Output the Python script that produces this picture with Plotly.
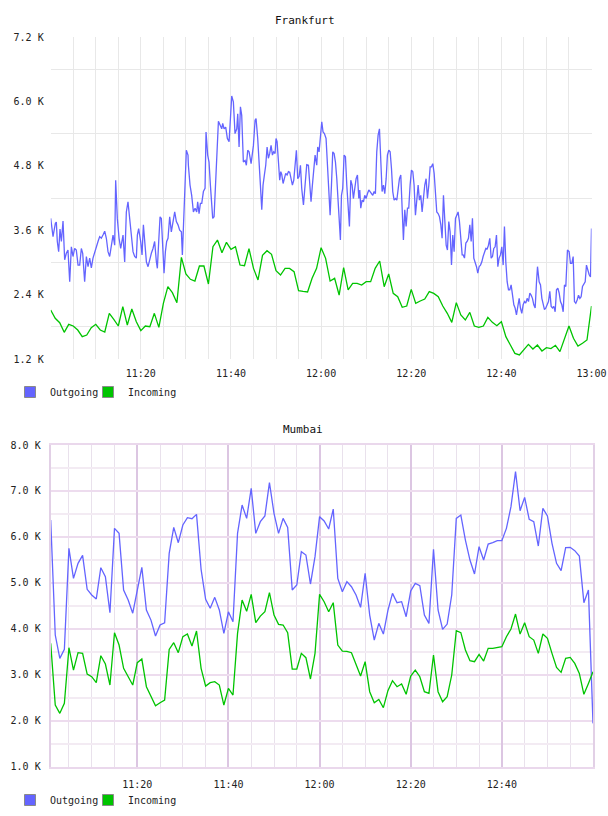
import pandas as pd
import plotly.graph_objects as go

# ---------------- data ----------------
# Frankfurt outgoing: seconds after 11:00 and values
fra_out_sec = [
    0, 31, 62, 75, 88, 106, 124, 142, 164, 186, 208, 230, 253, 275, 297, 319, 341, 364, 386, 408,
    426, 452, 475, 497, 519, 541, 563, 585, 608, 630, 652, 674, 696, 719, 741, 763, 785, 807, 830, 852,
    865, 887, 910, 932, 949, 963, 985, 1007, 1029, 1052, 1074, 1096, 1118, 1140, 1154, 1171, 1198, 1216, 1234, 1251,
    1274, 1296, 1318, 1340, 1362, 1384, 1407, 1420, 1438, 1456, 1473, 1491, 1509, 1527, 1544, 1562, 1584, 1606, 1629, 1651,
    1673, 1695, 1717, 1740, 1753, 1771, 1793, 1806, 1828,
    1833, 1855, 1877, 1900, 1922, 1944, 1957, 1975, 1993, 2011, 2033, 2055, 2068, 2090, 2108, 2126, 2144, 2157, 2175, 2197,
    2219, 2233, 2255, 2277, 2290, 2308, 2330, 2352, 2375, 2397, 2410, 2432, 2454, 2477, 2490, 2508, 2526, 2543, 2565, 2588,
    2605, 2623, 2641, 2668, 2699, 2721, 2734, 2756, 2774, 2792, 2810, 2827, 2845, 2863, 2881, 2898, 2916, 2934, 2952, 2969,
    2987, 3000, 3014, 3032, 3049, 3063, 3076, 3094, 3111, 3129, 3147, 3165, 3182, 3200, 3218, 3236, 3253, 3271, 3289, 3307,
    3325, 3342, 3365, 3387, 3409, 3431, 3449, 3466, 3484, 3502, 3520, 3542, 3555, 3573, 3591, 3609, 3626, 3644,
    3666, 3684, 3702, 3720, 3738, 3755, 3773, 3791, 3809, 3826, 3844, 3857, 3871, 3888, 3906, 3924, 3942, 3959, 3977, 3995,
    4013, 4030, 4048, 4066, 4084, 4102, 4115, 4128, 4146, 4164, 4181, 4199, 4217, 4235, 4252, 4270, 4288, 4306, 4323, 4341,
    4359, 4377, 4394, 4412, 4430, 4448, 4466, 4483, 4501, 4519, 4537, 4554, 4572, 4590, 4608, 4625, 4643, 4661, 4679, 4696,
    4714, 4732, 4750, 4767, 4785, 4803, 4821, 4838, 4856, 4874, 4892, 4909, 4927, 4945, 4963, 4980, 4998, 5016, 5034, 5052,
    5069, 5087, 5105, 5123, 5140, 5158, 5176, 5194, 5211, 5229, 5247, 5265, 5282, 5300, 5318, 5336, 5353, 5371, 5389, 5407,
    5424, 5442, 5460, 5478,
    5491, 5509, 5527, 5544, 5562, 5580, 5598, 5615, 5633, 5651, 5669, 5686, 5704, 5722, 5740, 5757, 5775, 5793, 5811, 5828,
    5846, 5864, 5882, 5899, 5917, 5935, 5953, 5970, 5988, 6006, 6024, 6041, 6059, 6077, 6095, 6112, 6130, 6148, 6166, 6183,
    6201, 6219, 6237, 6254, 6272, 6290, 6308, 6325, 6343, 6361, 6379, 6396, 6414, 6432, 6450, 6468, 6481, 6503, 6521, 6539,
    6556, 6574, 6592, 6610, 6627, 6645, 6663, 6681, 6698, 6716, 6734, 6752, 6769, 6787, 6805, 6823, 6840, 6858, 6880, 6902,
    6920, 6938, 6956, 6973, 6991, 7009, 7027, 7045, 7062, 7080, 7098, 7116, 7133, 7151, 7169, 7187, 7200,
]
fra_out_val = [
    3820, 3480, 3730, 3750, 3390, 3200, 3620, 3390, 3770, 3050, 3170, 3230, 2640, 3290, 3110, 3260, 3230, 2950, 2950, 3260,
    3170, 2640, 3110, 2920, 3080, 2900, 3080, 3200, 3290, 3390, 3480, 3450, 3510, 3580, 3450, 3200, 3110, 3320, 3510, 3320,
    4530, 3820, 3450, 3260, 3390, 3510, 3010, 3940, 4130, 3820, 3390, 3200, 3110, 3080, 3510, 3630, 3390, 3140, 3700, 3450,
    3010, 2920, 3080, 3170, 3260, 3390, 3010, 2890, 3390, 3850, 3820, 3320, 2800, 3200, 3390, 3450, 3850, 3570, 3730, 3940,
    3760, 3700, 3600, 3570, 3140, 3820, 4690, 5090, 5000,
    4810, 4440, 4250, 3940, 4010, 3940, 4130, 3910, 4100, 4100, 4320, 4380, 5430, 5000, 4870, 4440, 4070, 3820, 3850, 4500,
    5180, 5630, 5560, 5490, 5590, 5490, 5520, 5310, 5250, 5680, 6100, 5990, 5400, 5490, 5770, 5150, 5900, 5740, 4870, 4900,
    4810, 5090, 5060, 4840, 5180, 5650, 5680, 5310, 4750, 4440, 3980, 4440, 4630, 4810, 5150, 4940, 5030, 5180, 5000, 5060,
    5030, 5310, 5250, 4900, 4530, 4690, 4640, 4470, 4600, 4660, 4630, 4690, 4680, 4530, 4440, 4530, 4810, 5090, 4560, 4600,
    4810, 4380, 4070, 4380, 4820, 4810, 4500, 4130, 4440, 4780, 5000, 4810, 5150, 5060, 5280, 5620, 5430, 5400,
    5310, 4750, 4320, 3880, 4440, 5060, 5030, 4870, 4560, 4130, 3700, 3420, 4250, 4380, 5000, 4970, 4440, 3940, 3670, 4530,
    4440, 4190, 4440, 4560, 4630, 4190, 4350, 4010, 4160, 4130, 4250, 4190, 4280, 4350, 4320, 4280, 4250, 4320, 4280, 5060,
    5370, 5490, 4810, 4320, 4440, 4280, 4560, 5000, 5090, 5060, 4750, 4320, 4160, 4190, 4160, 4380, 4560, 4630, 3940, 3420,
    3980, 3670, 4010, 4010, 4440, 4720, 4690, 4440, 3880, 4220, 4440, 4160, 4250, 3940, 4280, 4440, 4560, 4190, 4440, 4780,
    4780, 4840, 4660, 4320, 3940, 3910, 3850, 3700, 3450, 4250, 3700, 3320, 3230, 3760, 3570, 2950, 3510, 3200, 3820, 3880,
    3940, 3760, 3510, 3140,
    3140, 3080, 3360, 3390, 3450, 3700, 3390, 3820, 3080, 3010, 2920, 2800, 2920, 2950, 3010, 3110, 3200, 3260, 3250, 3320,
    3450, 3080, 3110, 3260, 3290, 3510, 2920, 3080, 3140, 3290, 2950, 3670, 3010, 2640, 2490, 2490, 2580, 2330, 2210, 2150,
    2020, 2180, 2330, 2150, 2050, 2210, 2270, 2240, 2330, 2270, 2430, 2390, 2330, 2210, 2150, 2640, 2920, 2640, 2580, 2330,
    2210, 2120, 2150, 2210, 2270, 2460, 2180, 2150, 2180, 2080, 2490, 2520, 2430, 2270, 2210, 2080, 2580, 2550, 3230, 3200,
    2980, 2980, 3110, 2270, 2240, 2300, 2390, 2330, 2360, 2550, 2610, 2640, 2950, 2830, 2770, 2730, 3630,
]

# Frankfurt incoming: one value per minute, 11:00 .. 13:00
fra_in_min = list(range(0, 121))
fra_in_val = [
    2113, 1958, 1877, 1697, 1846, 1815, 1740, 1616, 1647, 1783,
    1846, 1740, 1703, 2051, 1939, 1815, 2175, 1833, 2132, 1895,
    1728, 1815, 1802, 2051, 1790, 2237, 2548, 2436, 2249, 3094,
    2784, 2685, 2653, 2933, 2933, 2597, 3293, 3417, 3181, 3374,
    3244, 3293, 2951, 2939, 3256, 2889, 2672, 3132, 3218, 3150,
    2845, 2765, 2889, 2889, 2827, 2473, 2460, 2450,
    2703, 2889, 3274, 3076, 2653, 2703, 2392, 2902, 2486, 2610,
    2610, 2579, 2641, 2641, 2889, 3026, 2548, 2784, 2423, 2361,
    2163, 2187, 2498, 2237, 2281, 2318, 2455, 2423, 2361, 2187,
    2051, 1883, 2250, 2020, 1927, 2069, 1815, 1790, 1815, 1976,
    1883, 1821, 1896, 1616, 1461, 1305, 1275, 1380, 1473, 1386,
    1461, 1349, 1411, 1393, 1455, 1337, 1585, 1815, 1585, 1442,
    1492, 1554, 2187,
]

# Mumbai: one value per minute, 11:01 .. 13:00
mum_min = list(range(1, 121))
mum_out_val = [
    6370, 3865, 3357, 3553, 5751, 5098, 5425, 5599, 4859, 4736,
    4649, 5330, 5135, 4350, 6186, 6077, 4845, 4627, 4340, 4880,
    5338, 4409, 4190, 3843, 4083, 4133, 5642, 6208, 5874, 6259,
    6418, 6397, 6491, 5294, 4641, 4446, 4685, 4410, 3901, 4370,
    4155, 6077, 6694, 6404, 7057, 6077, 6331, 6455, 7180, 6513,
    6077, 6404, 6208, 4845, 4953, 5679, 5606, 4975, 5570, 6440,
    6346, 6172, 6607, 5098, 4808, 5026, 4917, 4736, 4467, 5207,
    4300, 3756, 4119, 3887, 4400, 4772, 4569, 4591, 4264, 4823,
    4989, 4939, 4300, 4119, 5729, 4410, 3988, 4104, 4736, 6404,
    6476, 5932, 5497, 5193, 5787, 5497, 5845, 5874, 5918, 5918,
    6186, 6658, 7419, 6571, 6861, 6382, 6331, 5802, 6621, 6455,
    5860, 5425, 5265, 5766, 5773, 5700, 5584, 4569, 4845, 1943,
]
mum_in_val = [
    3684, 2342, 2161, 2378, 3589, 3103, 3481, 3466, 3016, 2958,
    2828, 3415, 3234, 2777, 3916, 3647, 3140, 2973, 2777, 3263,
    3343, 2741, 2538, 2327, 2393, 2451, 3553, 3698, 3481, 3829,
    3887, 3626, 3952, 3140, 2755, 2828, 2850, 2777, 2342, 2705,
    2560, 3901, 4627, 4380, 4750, 4133, 4278, 4373, 4786, 4300,
    4097, 4083, 3916, 3125, 3125, 3466, 3372, 2908, 3466, 4750,
    4590, 4373, 4569, 3647, 3517, 3510, 3481, 3234, 2973, 3285,
    2632, 2393, 2465, 2284, 2654, 2871, 2741, 2799, 2574, 2973,
    3103, 2958, 2632, 2596, 3430, 2632, 2414, 2523, 2995, 3959,
    3916, 3539, 3307, 3285, 3444, 3299, 3575, 3575, 3597, 3611,
    3829, 3996, 4322, 3887, 4133, 3829, 3756, 3466, 3887, 3793,
    3466, 3162, 3053, 3357, 3379, 3248, 3031, 2574, 2813, 3067,
]

fra_y_ticks = [1200, 2400, 3600, 4800, 6000, 7200]
fra_y_minor = [1800, 3000, 4200, 5400, 6600]
mum_y_ticks = [1000, 2000, 3000, 4000, 5000, 6000, 7000, 8000]
mum_y_minor = [1500, 2500, 3500, 4500, 5500, 6500, 7500]
fra_x_labels = ["11:20", "11:40", "12:00", "12:20", "12:40", "13:00"]
mum_x_labels = ["11:20", "11:40", "12:00", "12:20", "12:40"]
series_names = ["Outgoing", "Incoming"]
titles = ["Frankfurt", "Mumbai"]

# ---------------- build ----------------
DAY = "2024-01-01 "
base = pd.Timestamp(DAY + "11:00:00")
fra_out_x = [base + pd.Timedelta(seconds=s) for s in fra_out_sec]
fra_in_x = [base + pd.Timedelta(minutes=m) for m in fra_in_min]
mum_x = [base + pd.Timedelta(minutes=m) for m in mum_min]

BLUE = "#6464ff"
GREEN = "#00c400"
FONT = "DejaVu Sans Mono"

def lbl_k(v):
    return f"{v/1000:.1f} K"

def tvals(labels):
    return [pd.Timestamp(DAY + s) for s in labels]

five_min = [base + pd.Timedelta(minutes=m) for m in range(5, 120, 5)]

fig = go.Figure()
fig.add_trace(go.Scatter(x=fra_out_x, y=fra_out_val, mode="lines", line=dict(color=BLUE, width=1.3),
                         showlegend=False, xaxis="x", yaxis="y"))
fig.add_trace(go.Scatter(x=fra_in_x, y=fra_in_val, mode="lines", line=dict(color=GREEN, width=1.3),
                         showlegend=False, xaxis="x", yaxis="y"))
fig.add_trace(go.Scatter(x=mum_x, y=mum_out_val, mode="lines", line=dict(color=BLUE, width=1.3),
                         showlegend=False, xaxis="x2", yaxis="y2"))
fig.add_trace(go.Scatter(x=mum_x, y=mum_in_val, mode="lines", line=dict(color=GREEN, width=1.3),
                         showlegend=False, xaxis="x2", yaxis="y2"))

# one legend box per entry, so each swatch sits where the reference puts it
legend_ids = [["legend", "legend3"], ["legend2", "legend4"]]
for (xa, ya), ids in zip([("x", "y"), ("x2", "y2")], legend_ids):
    for name, col, lg in zip(series_names, [BLUE, GREEN], ids):
        fig.add_trace(go.Scatter(x=[None], y=[None], mode="markers", name=name, legend=lg,
                                 marker=dict(symbol="square", size=11, color=col,
                                             line=dict(color="#8a8a8a", width=1)),
                                 xaxis=xa, yaxis=ya))

tickfont = dict(family=FONT, size=10, color="#222")
W, H = 608, 816

legend_common = dict(orientation="h", xanchor="left", yanchor="middle",
                     font=dict(family=FONT, size=10, color="#222"), bgcolor="rgba(0,0,0,0)",
                     itemclick=False, itemdoubleclick=False)

fig.update_layout(
    width=W, height=H, autosize=False,
    margin=dict(l=0, r=0, t=0, b=0, pad=0),
    paper_bgcolor="white", plot_bgcolor="white",
    font=dict(family=FONT, size=10, color="#222"),
    xaxis=dict(domain=[50.7 / W, 591.5 / W], anchor="y", type="date", automargin=False,
               range=[base, base + pd.Timedelta(minutes=120)],
               tickmode="array", tickvals=tvals(fra_x_labels), ticktext=fra_x_labels,
               showgrid=True, gridcolor="#e8e8e8", gridwidth=1,
               minor=dict(tickvals=five_min, showgrid=True, gridcolor="#e8e8e8", gridwidth=1),
               zeroline=False, showline=False, ticks="", ticklabelstandoff=7, tickfont=tickfont),
    yaxis=dict(domain=[1 - 359 / H, 1 - 37 / H], anchor="x", automargin=False,
               range=[1200, 7200], tickmode="array", tickvals=fra_y_ticks,
               ticktext=[lbl_k(v) for v in fra_y_ticks],
               showgrid=False,
               minor=dict(tickvals=fra_y_minor, showgrid=True, gridcolor="#e8e8e8", gridwidth=1),
               zeroline=False, showline=False, ticks="", ticklabelstandoff=6, tickfont=tickfont),
    xaxis2=dict(domain=[50.7 / W, 593 / W], anchor="y2", type="date", automargin=False,
                range=[base + pd.Timedelta(minutes=1), base + pd.Timedelta(minutes=120)],
                tickmode="array", tickvals=tvals(mum_x_labels), ticktext=mum_x_labels,
                showgrid=True, gridcolor="#dcc6e2", gridwidth=1.5,
                minor=dict(tickvals=five_min, showgrid=True, gridcolor="#e9e1ec", gridwidth=1),
                zeroline=False, showline=True, mirror=True, linecolor="#ead8ec", linewidth=2,
                ticks="", ticklabelstandoff=7, tickfont=tickfont),
    yaxis2=dict(domain=[1 - 766.7 / H, 1 - 445 / H], anchor="x2", automargin=False,
                range=[1000, 8000], tickmode="array", tickvals=mum_y_ticks,
                ticktext=[lbl_k(v) for v in mum_y_ticks],
                showgrid=True, gridcolor="#eddcee", gridwidth=2,
                minor=dict(tickvals=mum_y_minor, showgrid=True, gridcolor="#f3ebf3", gridwidth=2),
                zeroline=False, showline=True, mirror=True, linecolor="#e2d0e6", linewidth=2,
                ticks="", ticklabelstandoff=6, tickfont=tickfont),
    legend=dict(legend_common, x=10 / W, y=1 - 392 / H),
    legend3=dict(legend_common, x=88 / W, y=1 - 392 / H),
    legend2=dict(legend_common, x=10 / W, y=1 - 800 / H),
    legend4=dict(legend_common, x=88 / W, y=1 - 800 / H),
    annotations=[
        dict(text=titles[0], x=305 / W, y=1 - 20 / H, xref="paper", yref="paper",
             xanchor="center", yanchor="middle",
             showarrow=False, font=dict(family=FONT, size=11, color="#111")),
        dict(text=titles[1], x=303 / W, y=1 - 429 / H, xref="paper", yref="paper",
             xanchor="center", yanchor="middle",
             showarrow=False, font=dict(family=FONT, size=11, color="#111")),
    ],
)

fig.write_html("out.html")
